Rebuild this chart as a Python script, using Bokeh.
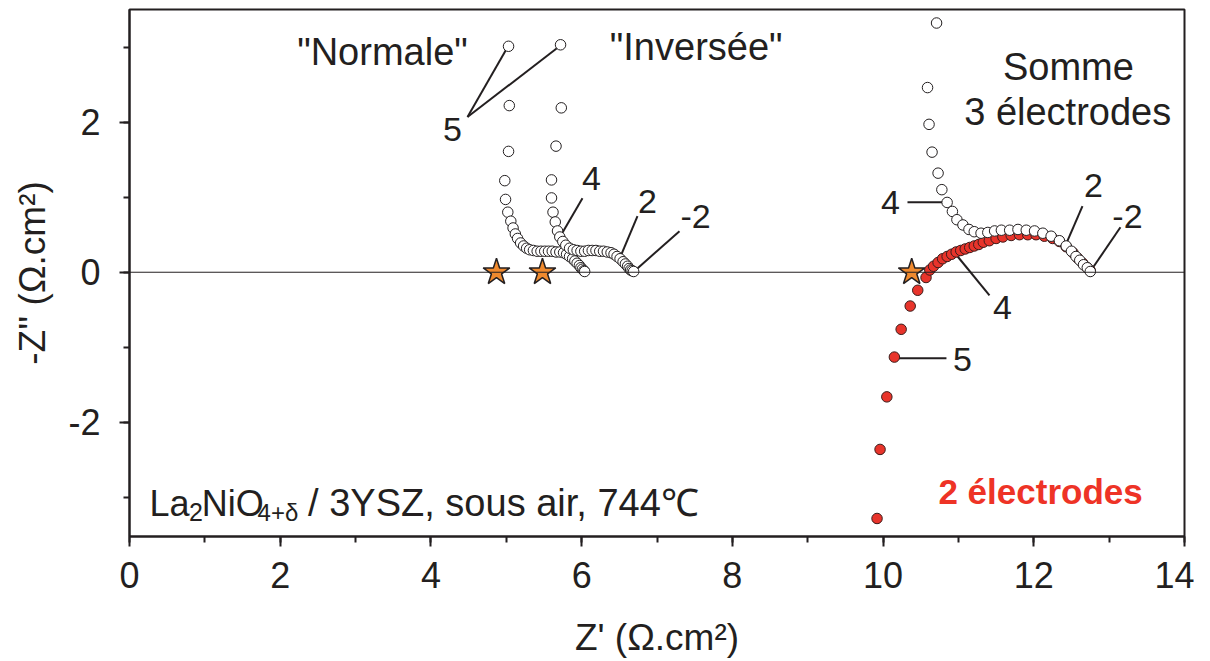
from bokeh.plotting import figure
from bokeh.models import Span, Label, SingleIntervalTicker, Range1d, CustomJSTickFormatter
from bokeh.embed import file_html
from bokeh.resources import INLINE

# ---- data ----
normale_x = [5.03, 5.04, 5.03, 4.98, 4.99, 5.02, 5.06, 5.09, 5.12, 5.15, 5.19, 5.23, 5.27, 5.31, 5.36,
             5.41, 5.46, 5.51, 5.56, 5.61, 5.66, 5.71, 5.76, 5.80, 5.84, 5.88, 5.91, 5.94, 5.97, 5.99,
             6.01, 6.03, 6.04]
normale_y = [3.01, 2.22, 1.61, 1.22, 0.97, 0.80, 0.68, 0.59, 0.51, 0.45, 0.39, 0.35, 0.32, 0.30, 0.29,
             0.28, 0.28, 0.28, 0.28, 0.28, 0.27, 0.27, 0.26, 0.24, 0.21, 0.18, 0.15, 0.12, 0.09, 0.06,
             0.04, 0.02, 0.01]

inversee_x = [5.72, 5.73, 5.66, 5.60, 5.60, 5.62, 5.65, 5.68, 5.71, 5.75, 5.79, 5.84, 5.89, 5.94, 5.99,
              6.04, 6.09, 6.14, 6.19, 6.24, 6.29, 6.34, 6.39, 6.43, 6.47, 6.51, 6.55, 6.58, 6.61, 6.63,
              6.65, 6.67, 6.69]
inversee_y = [3.03, 2.19, 1.68, 1.23, 0.99, 0.80, 0.67, 0.55, 0.47, 0.41, 0.36, 0.32, 0.30, 0.29, 0.28,
              0.28, 0.29, 0.29, 0.29, 0.28, 0.28, 0.27, 0.26, 0.24, 0.21, 0.18, 0.14, 0.11, 0.08, 0.05,
              0.03, 0.02, 0.01]

somme_x = [10.71, 10.59, 10.61, 10.65, 10.73, 10.78, 10.85, 10.92, 10.98, 11.06, 11.14, 11.21, 11.30,
           11.39, 11.48, 11.57, 11.68, 11.79, 11.90, 12.01, 12.12, 12.23, 12.34, 12.43, 12.50, 12.56,
           12.61, 12.66, 12.71, 12.75]
somme_y = [3.32, 2.46, 1.97, 1.60, 1.32, 1.10, 0.93, 0.81, 0.70, 0.63, 0.57, 0.54, 0.52, 0.53, 0.55,
           0.56, 0.56, 0.57, 0.56, 0.55, 0.52, 0.48, 0.42, 0.35, 0.28, 0.21, 0.16, 0.10, 0.06, 0.01]

deux_x = [9.92, 9.96, 10.05, 10.15, 10.24, 10.36, 10.46, 10.57, 10.62, 10.67, 10.73, 10.79, 10.85,
          10.91, 10.97, 11.03, 11.09, 11.15, 11.21, 11.27, 11.33, 11.41, 11.50, 11.59, 11.70, 11.81,
          11.92, 12.03, 12.14, 12.25, 12.34, 12.43, 12.52, 12.58, 12.65, 12.71, 12.75]
deux_y = [-3.28, -2.36, -1.66, -1.13, -0.76, -0.45, -0.24, -0.07, 0.03, 0.08, 0.13, 0.18, 0.21,
          0.24, 0.27, 0.29, 0.31, 0.33, 0.35, 0.37, 0.40, 0.42, 0.45, 0.47, 0.49, 0.50,
          0.50, 0.50, 0.48, 0.45, 0.41, 0.34, 0.26, 0.19, 0.12, 0.06, 0.02]

star_x = [4.87, 5.48, 10.38]
star_y = [0.0, 0.0, 0.0]

# leader lines: (x0, y0) -> (x1, y1) and number labels
lead_x0 = [4.485, 4.485, 6.011, 6.741, 7.298, 10.324, 12.646, 13.150, 11.412, 10.151]
lead_y0 = [2.067, 2.067, 0.987, 0.747, 0.547, 0.933, 0.880, 0.600, -0.307, -1.147]
lead_x1 = [5.003, 5.693, 5.733, 6.529, 6.728, 10.788, 12.434, 12.779, 10.987, 10.841]
lead_y1 = [2.973, 3.000, 0.507, 0.240, 0.040, 0.933, 0.387, 0.053, 0.213, -1.147]

num_text = ["5", "4", "2", "-2", "4", "2", "-2", "4", "5"]
num_x = [4.286, 6.131, 6.874, 7.511, 10.098, 12.792, 13.243, 11.584, 11.054]
num_y = [1.907, 1.253, 0.947, 0.747, 0.933, 1.160, 0.747, -0.467, -1.160]

x_ticks_interval = 2
y_ticks_interval = 2

INK = "#231f20"
FONT = "Liberation Sans"

p = figure(frame_width=1055, frame_height=527, x_range=Range1d(0, 14), y_range=Range1d(-3.52, 3.5),
           output_backend="svg", toolbar_location=None,
           min_border_left=129, min_border_right=10, min_border_top=9, min_border_bottom=106)

p.xgrid.visible = False
p.ygrid.visible = False
p.outline_line_color = INK
p.outline_line_width = 2
p.background_fill_color = "white"

p.xaxis.ticker = SingleIntervalTicker(interval=x_ticks_interval, num_minor_ticks=2)
p.yaxis.ticker = SingleIntervalTicker(interval=y_ticks_interval, num_minor_ticks=2)

for ax in (p.xaxis[0], p.yaxis[0]):
    ax.axis_line_width = 2
    ax.axis_line_color = INK
    ax.major_tick_line_width = 2
    ax.major_tick_line_color = INK
    ax.minor_tick_line_width = 2
    ax.minor_tick_line_color = INK
    ax.major_tick_in = 0
    ax.major_tick_out = 10
    ax.minor_tick_in = 0
    ax.minor_tick_out = 6
    ax.major_label_text_font = FONT
    ax.major_label_text_font_size = "36px"
    ax.major_label_text_color = INK
    ax.axis_label_text_font = FONT
    ax.axis_label_text_font_size = "37px"
    ax.axis_label_text_font_style = "normal"
    ax.axis_label_text_color = INK
    ax.formatter = CustomJSTickFormatter(code="return tick.toString();")

p.xaxis.axis_label = "Z' (Ω.cm²)"
p.yaxis.axis_label = "-Z'' (Ω.cm²)"
p.xaxis.major_label_standoff = 15
p.xaxis.axis_label_standoff = 26
p.yaxis.major_label_standoff = 19
p.yaxis.axis_label_standoff = 12

p.add_layout(Span(location=0, dimension="width", line_color=INK, line_width=1))

# leader lines
p.segment(lead_x0, lead_y0, lead_x1, lead_y1, line_color=INK, line_width=2)

# stars
p.scatter(star_x, star_y, marker="star", size=28, fill_color="#f08a2e", line_color=INK, line_width=1.5)

# 2 electrodes (red filled)
p.scatter(deux_x, deux_y, marker="circle", size=10.5, fill_color="#e8342b", line_color="#3b1d1b", line_width=1)
# open circles
for xs, ys in ((somme_x, somme_y), (normale_x, normale_y), (inversee_x, inversee_y)):
    p.scatter(xs, ys, marker="circle", size=10.5, fill_color="white", line_color=INK, line_width=1)

# number labels
for t, x, y in zip(num_text, num_x, num_y):
    p.add_layout(Label(x=x, y=y, text=t, text_align="center", text_baseline="middle",
                       text_font=FONT, text_font_size="34px", text_color=INK))

def big(x, y, t, color=INK, style="normal", size="38px"):
    p.add_layout(Label(x=x, y=y, text=t, text_align="center", text_baseline="middle",
                       text_font=FONT, text_font_size=size, text_color=color, text_font_style=style))

big(3.357, 2.93, '"Normale"')
big(7.52, 3.0, '"Inversée"')
big(12.46, 2.73, "Somme")
big(12.45, 2.13, "3 électrodes")
big(12.09, -2.92, "2 électrodes", color="#ee3326", style="bold", size="35px")

# composition label with subscripts
def piece(x, y, t, size):
    p.add_layout(Label(x=x, y=y, text=t, text_align="left", text_baseline="alphabetic",
                       text_font=FONT, text_font_size=size, text_color=INK))

piece(0.265, -3.08, "La", "36px")
piece(0.79, -3.20, "2", "25px")
piece(0.96, -3.08, "NiO", "36px")
piece(1.70, -3.20, "4+δ", "24px")
piece(2.37, -3.08, "/ 3YSZ, sous air, 744℃", "38px")

open("out.html", "w").write(file_html(p, INLINE))
